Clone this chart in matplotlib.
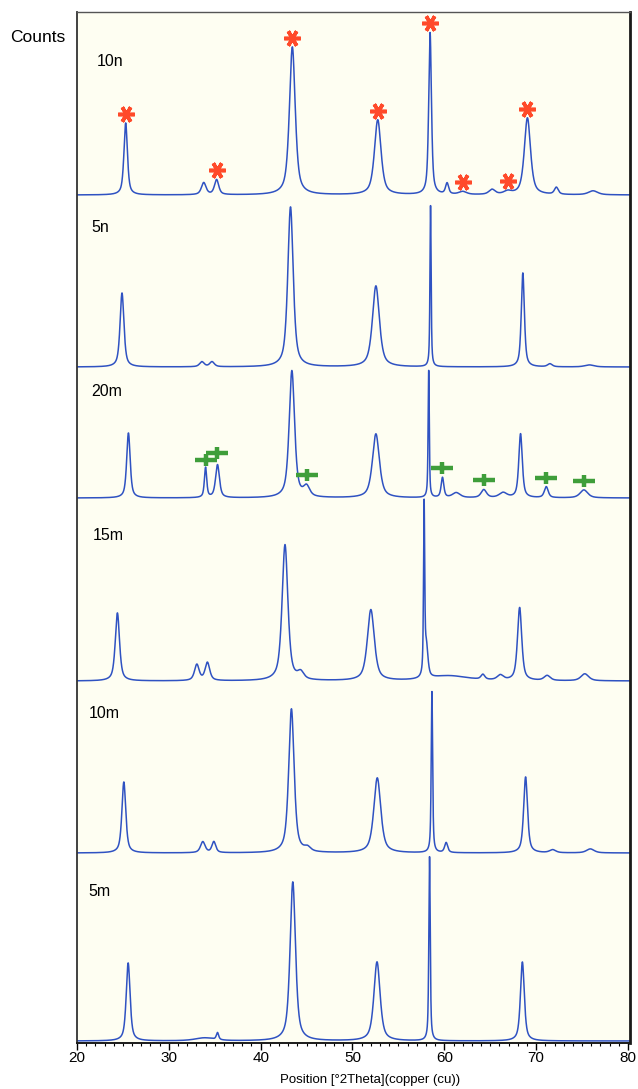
import numpy as np
import matplotlib
matplotlib.use("Agg")
import matplotlib.pyplot as plt
from matplotlib.path import Path
from matplotlib.ticker import MultipleLocator

plt.rcParams['font.family'] = ['Liberation Sans', 'DejaVu Sans']

# samples, top to bottom
samples = ['10n', '5n', '20m', '15m', '10m', '5m']

# peak tables: position (deg 2theta), height (counts, px units), FWHM (deg)
pos_10n = [25.3, 33.8, 35.2, 43.45, 52.75, 58.45, 60.3, 62.0, 65.2, 66.9, 69.05, 72.2, 76.2]
hgt_10n = [72, 12, 15, 148, 75, 162, 11, 3, 5, 3, 77, 7, 4]
fw_10n = [0.45, 0.6, 0.55, 0.75, 0.85, 0.35, 0.4, 1.0, 0.8, 1.0, 0.8, 0.5, 1.2]

pos_5n = [24.9, 33.6, 34.7, 43.25, 52.55, 58.5, 68.55, 71.5, 75.8]
hgt_5n = [74, 5, 5, 160, 81, 161, 94, 3, 2]
fw_5n = [0.5, 0.6, 0.6, 0.7, 0.9, 0.15, 0.4, 0.6, 1.2]

pos_20m = [25.6, 34.0, 35.3, 43.4, 45.0, 52.55, 58.3, 59.8, 61.3, 64.3, 66.4, 68.3, 71.1, 75.2]
hgt_20m = [65, 30, 33, 127, 10, 64, 127, 20, 5, 8, 5, 64, 11, 8]
fw_20m = [0.45, 0.3, 0.5, 0.7, 0.8, 0.9, 0.15, 0.35, 1.0, 0.7, 1.0, 0.45, 0.5, 1.0]

pos_15m = [24.4, 33.05, 34.2, 42.65, 44.36, 52.0, 57.8, 58.05, 60.5, 64.2, 66.1, 68.2, 71.2, 75.3]
hgt_15m = [68, 16, 18, 136, 7, 71, 168, 30, 5, 5, 5, 73, 5, 7]
fw_15m = [0.55, 0.6, 0.6, 0.75, 0.8, 0.9, 0.15, 0.4, 5.0, 0.5, 0.8, 0.55, 0.8, 1.0]

pos_10m = [25.1, 33.7, 34.9, 43.35, 45.1, 52.7, 58.65, 60.2, 68.85, 71.8, 75.9]
hgt_10m = [71, 11, 11, 144, 4, 75, 161, 10, 76, 3, 4]
fw_10m = [0.5, 0.6, 0.5, 0.7, 0.8, 0.9, 0.18, 0.4, 0.5, 0.8, 1.0]

pos_5m = [25.57, 33.9, 35.3, 43.5, 52.67, 58.39, 68.5]
hgt_5m = [78, 3, 7, 159, 79, 184, 79]
fw_5m = [0.5, 2.5, 0.3, 0.7, 0.8, 0.18, 0.5]

peaks = {
    '10n': (pos_10n, hgt_10n, fw_10n),
    '5n': (pos_5n, hgt_5n, fw_5n),
    '20m': (pos_20m, hgt_20m, fw_20m),
    '15m': (pos_15m, hgt_15m, fw_15m),
    '10m': (pos_10m, hgt_10m, fw_10m),
    '5m': (pos_5m, hgt_5m, fw_5m),
}

# phase markers
star_pos = [25.3, 35.2, 43.45, 52.75, 58.45, 62.0, 66.9, 69.05]   # on 10n
plus_pos = [34.0, 35.3, 45.0, 59.8, 64.3, 71.1, 75.2]             # on 20m
plus_lift = [7, 12, 9, 9, 9, 9, 9]

# layout (pixel units on the y axis)
offsets = {'10n': 848, '5n': 676, '20m': 545, '15m': 362, '10m': 190, '5m': 2}
label_px = {'10n': (97, 61), '5n': (91, 228), '20m': (91, 392),
            '15m': (93, 536), '10m': (89, 713), '5m': (88, 891)}

W, H = 638, 1089


def profile(x, pos, hgt, fw, eta=0.65):
    y = np.zeros_like(x)
    for p, h, w in zip(pos, hgt, fw):
        d = (x - p) / (w / 2)
        lor = 1 / (1 + d ** 2)
        gau = np.exp(-np.log(2) * d ** 2)
        y += h * (eta * lor + (1 - eta) * gau)
    return y


x = np.linspace(20, 80.2, 6021)

fig = plt.figure(figsize=(W / 100, H / 100), dpi=100)
ax = fig.add_axes([77 / W, 46 / H, 553 / W, 1031 / H])
ax.set_facecolor('#fefef2')
ax.set_xlim(20, 80.22)
ax.set_ylim(0, 1031)

line_col = '#2f52c2'
for s in samples:
    pos, hgt, fw = peaks[s]
    ax.plot(x, offsets[s] + profile(x, pos, hgt, fw), color=line_col, lw=1.1)
    lx, ly = label_px[s]
    fig.text(lx / W, 1 - ly / H, s, fontsize=11.5, va='center', ha='left')

# red asterisks above 10n peaks
p, h, w = peaks['10n']
sy = offsets['10n'] + profile(np.array(star_pos), p, h, w) + 9
ax.plot(star_pos, sy, ls='none', marker=(6, 2, 90), ms=12, mew=2.6,
        color='#ff4a2a', zorder=5)

# green plus signs above 20m peaks
plus_marker = Path([(-1, 0), (1, 0), (0, -0.55), (0, 0.55)],
                   [Path.MOVETO, Path.LINETO, Path.MOVETO, Path.LINETO])
p, h, w = peaks['20m']
py = offsets['20m'] + profile(np.array(plus_pos), p, h, w) + np.array(plus_lift)
ax.plot(plus_pos, py, ls='none', marker=plus_marker, ms=16, mew=3.2,
        color='#3f9e3a', zorder=5)

ax.set_yticks([])
ax.set_xticks(range(20, 81, 10))
ax.xaxis.set_minor_locator(MultipleLocator(1))
ax.tick_params(axis='x', which='major', direction='out', length=5, width=1,
               labelsize=11, pad=1)
ax.tick_params(axis='x', which='minor', direction='out', length=2.5, width=0.8)

ax.spines['left'].set_color('#333333')
ax.spines['left'].set_linewidth(1.3)
ax.spines['right'].set_color('#1a1a1a')
ax.spines['right'].set_linewidth(2)
ax.spines['top'].set_color('#555555')
ax.spines['top'].set_linewidth(1)
ax.spines['bottom'].set_color('#1a1a1a')
ax.spines['bottom'].set_linewidth(1.4)

fig.text(10 / W, 1 - 37 / H, 'Counts', fontsize=12.5, va='center', ha='left')
fig.text(370 / W, 1 - 1080 / H, 'Position [°2Theta](copper (cu))', fontsize=9.5,
         va='center', ha='center')

fig.savefig('out.png', dpi=100, facecolor='white')
